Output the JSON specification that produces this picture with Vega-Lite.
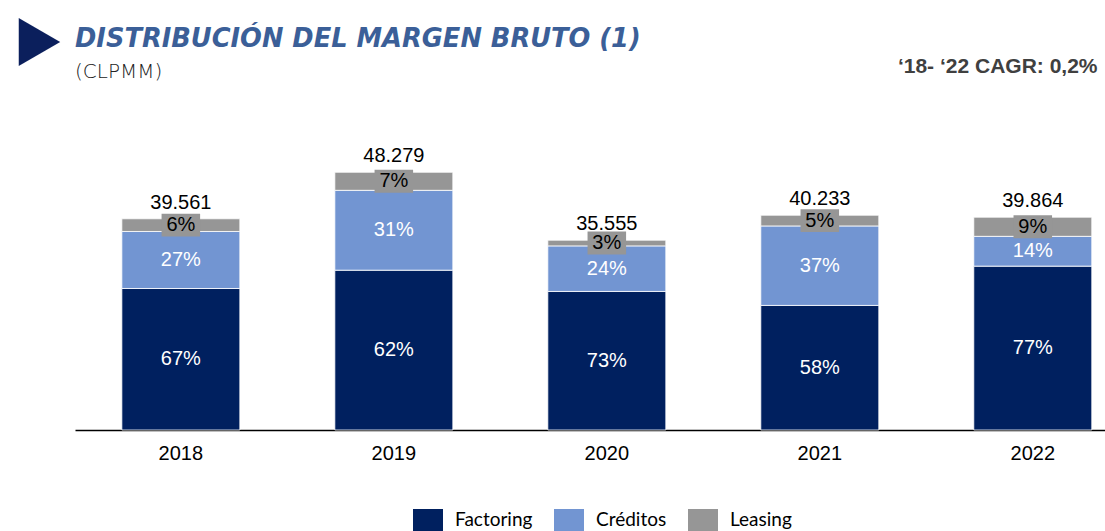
{
  "$schema": "https://vega.github.io/schema/vega-lite/v6.json",
  "width": 1030,
  "height": 331,
  "autosize": {"type": "none"},
  "padding": {"left": 75, "top": 99, "right": 0, "bottom": 101},
  "background": "white",
  "title": {
    "text": "DISTRIBUCIÓN DEL MARGEN BRUTO (1)",
    "subtitle": "(CLPMM)",
    "anchor": "start",
    "frame": "group",
    "font": "DejaVu Sans",
    "fontSize": 25.7,
    "fontStyle": "italic",
    "fontWeight": "bold",
    "color": "#3b5f98",
    "subtitleFont": "DejaVu Sans",
    "subtitleFontSize": 20,
    "subtitleFontWeight": 300,
    "subtitleColor": "#222222",
    "subtitlePadding": 9,
    "offset": -64
  },
  "datasets": {
    "segs": [
      {"year": "2018", "category": "Factoring", "value": 26506, "pct": "67%", "rank": 1},
      {"year": "2018", "category": "Créditos", "value": 10681, "pct": "27%", "rank": 2},
      {"year": "2018", "category": "Leasing", "value": 2374, "pct": "6%", "rank": 3},
      {"year": "2019", "category": "Factoring", "value": 29933, "pct": "62%", "rank": 1},
      {"year": "2019", "category": "Créditos", "value": 14966, "pct": "31%", "rank": 2},
      {"year": "2019", "category": "Leasing", "value": 3380, "pct": "7%", "rank": 3},
      {"year": "2020", "category": "Factoring", "value": 25955, "pct": "73%", "rank": 1},
      {"year": "2020", "category": "Créditos", "value": 8533, "pct": "24%", "rank": 2},
      {"year": "2020", "category": "Leasing", "value": 1067, "pct": "3%", "rank": 3},
      {"year": "2021", "category": "Factoring", "value": 23335, "pct": "58%", "rank": 1},
      {"year": "2021", "category": "Créditos", "value": 14886, "pct": "37%", "rank": 2},
      {"year": "2021", "category": "Leasing", "value": 2012, "pct": "5%", "rank": 3},
      {"year": "2022", "category": "Factoring", "value": 30695, "pct": "77%", "rank": 1},
      {"year": "2022", "category": "Créditos", "value": 5581, "pct": "14%", "rank": 2},
      {"year": "2022", "category": "Leasing", "value": 3588, "pct": "9%", "rank": 3}
    ],
    "totals": [
      {"year": "2018", "total": 39561, "label": "39.561"},
      {"year": "2019", "total": 48279, "label": "48.279"},
      {"year": "2020", "total": 35555, "label": "35.555"},
      {"year": "2021", "total": 40233, "label": "40.233"},
      {"year": "2022", "total": 39864, "label": "39.864"}
    ]
  },
  "layer": [
    {
      "data": {"name": "segs"},
      "transform": [
        {"stack": "value", "groupby": ["year"], "sort": [{"field": "rank", "order": "ascending"}], "as": ["v0", "v1"]}
      ],
      "mark": {"type": "bar", "stroke": "#ffffff", "strokeWidth": 0.8},
      "encoding": {
        "x": {
          "field": "year",
          "type": "ordinal",
          "scale": {"paddingInner": 0.446, "paddingOuter": 0.141, "align": 0.78},
          "axis": {
            "title": null,
            "ticks": false,
            "domainColor": "#000000",
            "domainWidth": 1.5,
            "labelFont": "Liberation Sans",
            "labelFontSize": 20,
            "labelColor": "#000000",
            "labelPadding": 13,
            "labelAngle": 0
          }
        },
        "y": {
          "field": "v0",
          "type": "quantitative",
          "scale": {"domain": [0, 62000], "nice": false, "zero": true},
          "axis": {
            "labels": false,
            "ticks": false,
            "domain": false,
            "grid": false,
            "title": "▶",
            "titleAngle": 0,
            "titleX": -63,
            "titleY": -54,
            "titleAlign": "left",
            "titleBaseline": "middle",
            "titleFont": "Noto Sans CJK JP",
            "titleFontSize": 51,
            "titleFontWeight": "normal",
            "titleColor": "#0b1f5c"
          }
        },
        "y2": {"field": "v1"},
        "color": {
          "field": "category",
          "type": "nominal",
          "scale": {"domain": ["Factoring", "Créditos", "Leasing"], "range": ["#00205f", "#7295d2", "#969696"]},
          "legend": {
            "title": null,
            "orient": "none",
            "legendX": 343,
            "legendY": 411,
            "direction": "horizontal",
            "symbolType": "M-1.5,-1.1H1.5V1.1H-1.5Z",
            "symbolSize": 400,
            "symbolStrokeWidth": 0,
            "symbolOpacity": 1,
            "labelFont": "Lato",
            "labelFontSize": 19,
            "labelColor": "#000000",
            "labelOffset": 17,
            "columnPadding": 21,
            "padding": 0
          }
        }
      }
    },
    {
      "data": {"name": "totals"},
      "mark": {"type": "text", "font": "Liberation Sans", "fontSize": 20, "color": "#000000", "dy": -10, "baseline": "alphabetic"},
      "encoding": {
        "x": {"field": "year", "type": "ordinal"},
        "y": {
          "field": "total",
          "type": "quantitative",
          "axis": {
            "orient": "right",
            "labels": false,
            "ticks": false,
            "domain": false,
            "grid": false,
            "title": "‘18- ‘22 CAGR: 0,2%",
            "titleAngle": 0,
            "titleX": -8,
            "titleY": -27,
            "titleAlign": "right",
            "titleBaseline": "alphabetic",
            "titleFont": "Liberation Sans",
            "titleFontSize": 21,
            "titleFontWeight": "bold",
            "titleColor": "#404040"
          }
        },
        "text": {"field": "label"}
      }
    },
    {
      "data": {"name": "segs"},
      "transform": [
        {"stack": "value", "groupby": ["year"], "sort": [{"field": "rank", "order": "ascending"}], "as": ["v0", "v1"]},
        {"filter": "datum.category === 'Leasing'"},
        {"fold": ["v0", "v1"], "as": ["k", "pos"]}
      ],
      "mark": {"type": "point", "shape": "M-1.6,-0.95H1.6V0.95H-1.6Z", "size": 580, "filled": true, "opacity": 1, "color": "#969696", "strokeWidth": 0},
      "encoding": {
        "x": {"field": "year", "type": "ordinal"},
        "y": {"aggregate": "mean", "field": "pos", "type": "quantitative", "axis": null},
        "detail": {"field": "category"}
      }
    },
    {
      "data": {"name": "segs"},
      "transform": [
        {"stack": "value", "groupby": ["year"], "sort": [{"field": "rank", "order": "ascending"}], "as": ["v0", "v1"]},
        {"fold": ["v0", "v1"], "as": ["k", "pos"]}
      ],
      "mark": {"type": "text", "font": "Liberation Sans", "fontSize": 20, "baseline": "middle"},
      "encoding": {
        "x": {"field": "year", "type": "ordinal"},
        "y": {"aggregate": "mean", "field": "pos", "type": "quantitative", "axis": null},
        "detail": {"field": "category"},
        "text": {"field": "pct"},
        "color": {"condition": {"test": "datum.category === 'Leasing'", "value": "#000000"}, "value": "#ffffff"}
      }
    }
  ],
  "resolve": {"axis": {"y": "independent"}},
  "config": {"view": {"stroke": null}}
}
